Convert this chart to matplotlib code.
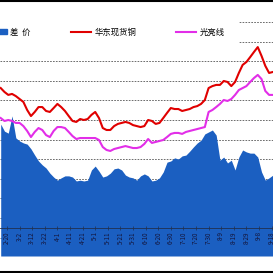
import matplotlib
matplotlib.use("Agg")
import matplotlib.pyplot as plt
from matplotlib.lines import Line2D
from matplotlib.patches import Patch
from matplotlib.ticker import MultipleLocator
import pandas as pd

plt.rcParams['font.family'] = ['Noto Sans CJK SC', 'DejaVu Sans']

# sampled every 3 days
dates = pd.date_range("2013-02-15", periods=73, freq="3D")

copper = [47630, 47430, 47280, 47330, 47220, 47070, 46920, 46510, 46200, 46410,
          46660, 46660, 46460, 46410, 46610, 46820, 46660, 46460, 46200, 45950,
          45900, 46050, 46000, 46050, 46260, 46410, 46100, 45590, 45490, 45490,
          45690, 45800, 45850, 45900, 45850, 45740, 45690, 45640, 45690, 46000,
          45950, 45800, 45850, 46100, 46360, 46610, 46560, 46560, 46460, 46510,
          46560, 46660, 46710, 46820, 47020, 47630, 47730, 47790, 47790, 47990,
          47940, 47730, 47940, 48400, 48810, 48960, 49210, 49470, 49720, 49270,
          48760, 48400, 48450]

bright = [46100, 45950, 46000, 45950, 45850, 45850, 45690, 45440, 45130, 45390,
          45590, 45490, 45230, 45130, 45440, 45640, 45640, 45590, 45390, 45180,
          45030, 45080, 45080, 45080, 45080, 45080, 44980, 44620, 44470, 44420,
          44520, 44570, 44620, 44670, 44620, 44570, 44570, 44620, 44780, 45030,
          44830, 44880, 44930, 44980, 45130, 45290, 45340, 45340, 45290, 45390,
          45440, 45490, 45540, 45590, 45640, 46410, 46510, 46660, 46820, 47020,
          46970, 47070, 47280, 47530, 47630, 47730, 47940, 48140, 48300, 48090,
          47480, 47280, 47280]

spread = [2650, 2470, 2420, 2860, 2300, 2220, 2170, 2140, 2020, 1860,
          1710, 1610, 1530, 1400, 1300, 1220, 1280, 1330, 1330, 1300,
          1200, 1220, 1200, 1220, 1480, 1580, 1450, 1300, 1330, 1400,
          1510, 1530, 1480, 1350, 1300, 1280, 1220, 1330, 1380, 1330,
          1200, 1220, 1280, 1430, 1680, 1710, 1790, 1760, 1840, 1860,
          1960, 2070, 2170, 2240, 2400, 2450, 2500, 2370, 1730, 1810,
          1660, 1730, 1480, 1810, 1990, 1940, 1910, 1910, 1810, 1430,
          1220, 1280, 1350]

tick_dates = pd.date_range("2013-02-20", periods=22, freq="10D")
tick_labels = [f"{d.month}-{d.day}" for d in tick_dates]

price_lim = (39061, 51510)
spread_lim = (-714, 5510)

fig = plt.figure(figsize=(2.73, 2.73), dpi=100)
ax = fig.add_axes([0, 17 / 273, 1, 244 / 273])   # grid layer
ax_s = ax.twinx()                                  # spread area + date axis
ax_p = ax.twinx()                                  # price lines

ax.set_ylim(*price_lim)
ax.yaxis.set_major_locator(MultipleLocator(1000))
ax.grid(True, axis="y", color="#555555", linestyle=(0, (2, 1.5)), linewidth=0.6)
ax.tick_params(left=False, labelleft=False, bottom=False, labelbottom=False)
for s in ax.spines.values():
    s.set_visible(False)

ax_s.fill_between(dates, spread_lim[0], spread, color="#1b5fc1", linewidth=0)
ax_s.set_ylim(*spread_lim)
ax_s.xaxis.set_visible(True)
ax_s.spines["bottom"].set_position(("data", 0))
ax_s.spines["bottom"].set_color("#203050")
ax_s.spines["bottom"].set_linewidth(0.6)
for s in ["top", "left", "right"]:
    ax_s.spines[s].set_visible(False)
ax_s.tick_params(axis="y", right=False, labelright=False)

ax_p.plot(dates, copper, color="#e00000", linewidth=1.5)
ax_p.plot(dates, bright, color="#e22ee8", linewidth=1.5)
ax_p.set_ylim(*price_lim)
ax_p.tick_params(axis="y", right=False, labelright=False)
for s in ax_p.spines.values():
    s.set_visible(False)

x0 = pd.Timestamp("2013-02-20")
ax.set_xlim(x0 - pd.Timedelta(days=5.56), x0 + pd.Timedelta(days=211.1))
ax_s.set_xticks(tick_dates)
ax_s.set_xticklabels(tick_labels, rotation=90, fontsize=4.5, color="#15153a")
ax_s.tick_params(axis="x", bottom=True, labelbottom=True, direction="inout",
                 length=3, width=0.5, color="#203050", pad=1)

handles = [Patch(color="#1b5fc1"),
           Line2D([], [], color="#e00000", linewidth=1.5),
           Line2D([], [], color="#e22ee8", linewidth=1.5)]
leg = fig.legend(handles, ["差  价", "华东现货铜", "光亮线"], ncol=3,
                 loc="center left", bbox_to_anchor=(-28 / 273, 1 - 32 / 273),
                 fontsize=6, frameon=True, borderpad=1.8, borderaxespad=0,
                 handlelength=2.4, handleheight=0.6, handletextpad=0.4,
                 columnspacing=4.8, fancybox=False)
leg.get_frame().set_facecolor("white")
leg.get_frame().set_edgecolor("none")
leg.get_frame().set_alpha(1)

fig.add_artist(Line2D([0, 1], [0.997, 0.997], transform=fig.transFigure, color="black", linewidth=1.5))
fig.add_artist(Line2D([0, 1], [1 - 271.5 / 273, 1 - 271.5 / 273], transform=fig.transFigure, color="black", linewidth=1.5))

fig.savefig("out.png", dpi=100)
